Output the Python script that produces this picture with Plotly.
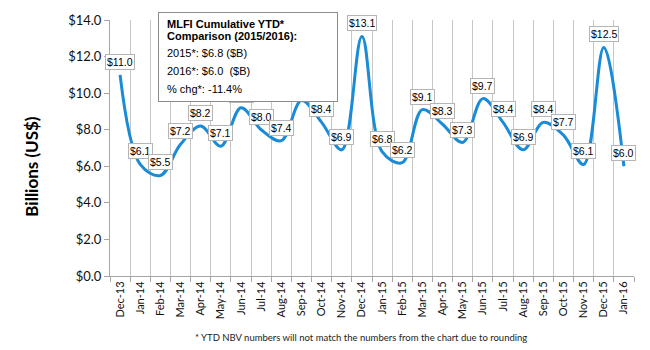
import plotly.graph_objects as go

months = ["Dec-13", "Jan-14", "Feb-14", "Mar-14", "Apr-14", "May-14", "Jun-14", "Jul-14",
          "Aug-14", "Sep-14", "Oct-14", "Nov-14", "Dec-14", "Jan-15", "Feb-15", "Mar-15",
          "Apr-15", "May-15", "Jun-15", "Jul-15", "Aug-15", "Sep-15", "Oct-15", "Nov-15",
          "Dec-15", "Jan-16"]
values = [11.0, 6.1, 5.5, 7.2, 8.2, 7.1, 9.2, 8.0, 7.4, 9.6, 8.4, 6.9, 13.1, 6.8, 6.2, 9.1,
          8.3, 7.3, 9.7, 8.4, 6.9, 8.4, 7.7, 6.1, 12.5, 6.0]

y_ticks = [0, 2, 4, 6, 8, 10, 12, 14]

box_lines = ["<b>MLFI Cumulative YTD*</b>", "<b>Comparison (2015/2016):</b>",
             "2015*: $6.8 ($B)", "2016*: $6.0  ($B)", "% chg*: -11.4%"]
footnote = "* YTD NBV numbers will not match the numbers from the chart due to rounding"
y_title = "Billions (US$)"

# plot area geometry (pixels) for paper-positioned text
L, R, T, B = 110, 16, 16, 74
W, H = 650 - L - R, 350 - T - B

def px_x(px):
    return (px - L) / W

def px_y(py):
    return (350 - B - py) / H

fig = go.Figure()
fig.add_trace(go.Scatter(
    x=months, y=values, mode="lines",
    line=dict(color="#1a8bd6", width=3, shape="spline", smoothing=1.0),
    hoverinfo="skip", showlegend=False))

annotations = []
for m, v in zip(months, values):
    annotations.append(dict(
        x=m, y=v, xref="x", yref="y", text=f"${v:.1f}", showarrow=False,
        yshift=13, bgcolor="white", bordercolor="#b5b5b5", borderwidth=1, borderpad=1,
        font=dict(family="Liberation Sans", size=10.5, color="black")))

# info box (drawn after labels so it covers them)
annotations.append(dict(
    xref="paper", yref="paper", x=px_x(158), y=px_y(8), xanchor="left", yanchor="top",
    text="", showarrow=False, width=178, height=88, bgcolor="white",
    bordercolor="#8c8c8c", borderwidth=1, borderpad=0))
for txt, yc in zip(box_lines, [20, 32, 50, 68, 86]):
    annotations.append(dict(
        xref="paper", yref="paper", x=px_x(165), y=px_y(yc), xanchor="left", yanchor="middle",
        text=txt, showarrow=False, align="left",
        font=dict(family="Liberation Sans", size=11, color="black")))

annotations.append(dict(
    xref="paper", yref="paper", x=px_x(32), y=px_y(165), xanchor="center", yanchor="middle",
    text=f"<b>{y_title}</b>", textangle=-90, showarrow=False,
    font=dict(family="Lato", size=17, color="black")))
annotations.append(dict(
    xref="paper", yref="paper", x=px_x(361), y=px_y(338), xanchor="center", yanchor="middle",
    text=footnote, showarrow=False,
    font=dict(family="Lato", size=9.5, color="#222")))

fig.update_layout(
    width=650, height=350,
    margin=dict(l=L, r=R, t=T, b=B),
    paper_bgcolor="white", plot_bgcolor="white",
    annotations=annotations,
    xaxis=dict(type="category", range=[-0.5, len(months) - 0.5], tickson="boundaries",
               showgrid=True, gridcolor="#c6c6c6", gridwidth=1,
               ticks="outside", ticklen=5, tickcolor="#a6a6a6",
               showline=True, linecolor="#a6a6a6", linewidth=1,
               tickangle=-90, tickfont=dict(family="Lato", size=11, color="#111"),
               zeroline=False),
    yaxis=dict(range=[0, 14], tickvals=y_ticks, tickformat="$.1f",
               showgrid=False, zeroline=False,
               ticks="outside", ticklen=5, tickcolor="#a6a6a6",
               showline=True, linecolor="#a6a6a6", linewidth=1,
               tickfont=dict(family="Lato", size=13, color="#111")),
)

fig.write_html("out.html")
